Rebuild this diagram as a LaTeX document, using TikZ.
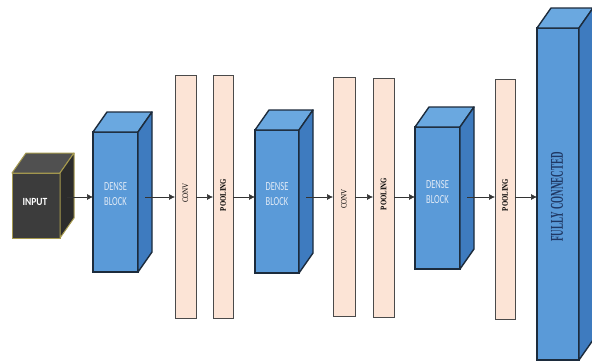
\documentclass[tikz,border=0pt]{standalone}
\usepackage{fontspec}
\setmainfont{Liberation Serif}
\newfontfamily\carlito{Carlito}
\usetikzlibrary{arrows.meta,calc}
\definecolor{dbblue}{HTML}{5A9AD8}
\definecolor{dbtopc}{HTML}{6AA8E0}
\definecolor{dbsidec}{HTML}{3E7BBF}
\definecolor{dbline}{HTML}{1C2B3C}
\definecolor{dbtext}{HTML}{E0EAF6}
\definecolor{peach}{HTML}{FCE4D6}
\definecolor{laygray}{HTML}{4A4A4A}
\definecolor{infront}{HTML}{3C3C3C}
\definecolor{intopc}{HTML}{505050}
\definecolor{insidec}{HTML}{2C2C2C}
\definecolor{inline}{HTML}{A69A4E}
\definecolor{fctext}{HTML}{1F3864}
\definecolor{arrgray}{HTML}{333333}
\tikzset{
  dbfront/.style={rectangle, draw=dbline, line width=1.4pt, fill=dbblue, inner sep=0pt, outer sep=0pt},
  dbtop/.style={draw=dbline, line width=1.4pt, fill=dbtopc, line join=round},
  dbside/.style={draw=dbline, line width=1.4pt, fill=dbsidec, line join=round},
  infront/.style={rectangle, draw=inline, line width=1pt, fill=infront, inner sep=0pt, outer sep=0pt},
  intop/.style={draw=inline, line width=1pt, fill=intopc, line join=round},
  inside/.style={draw=inline, line width=1pt, fill=insidec, line join=round},
  layer/.style={rectangle, draw=laygray, line width=0.9pt, fill=peach, inner sep=0pt, outer sep=0pt},
  arr/.style={draw=arrgray, line width=0.6pt, -{Latex[length=6pt,width=6pt]}},
  dblabel/.style={text=dbtext, font=\carlito\fontsize{8.5}{15}\selectfont, align=center},
  laylabel/.style={rotate=90, text=black, font=\fontsize{7}{8}\selectfont},
  poollabel/.style={rotate=90, text=black, font=\bfseries\fontsize{6.8}{8}\selectfont},
}
\newcommand\cuboid[6]{%
  \node[#6front, minimum width=#4pt, minimum height=#5pt] (#1) at (#2,#3) {};
  \filldraw[#6top] (#1.north west) -- ++(14,-20) -- ++(#4,0) -- (#1.north east) -- cycle;
  \filldraw[#6side] (#1.north east) -- ++(14,-20) -- ++(0,#5) -- (#1.south east) -- cycle;
}
\begin{document}
\begin{tikzpicture}[x=1pt,y=-1pt]
\useasboundingbox (0,0) rectangle (592,362);
\fill[white] (0,0) rectangle (592,362);
\clip (0,0) rectangle (592,362);
\coordinate (ay) at (0,197);
% input
\cuboid{in}{36}{205.5}{48}{65}{in}
\node[text=white, font=\carlito\bfseries\fontsize{9.5}{10}\selectfont] (inl) at (35,202) {\scalebox{1}[1.15]{INPUT}};
% dense block 1
\cuboid{d1}{115.5}{202}{45}{140}{db}
\node[dblabel] (d1l) at (115.5,194) {\scalebox{1}[1.45]{DENSE}\\\scalebox{1}[1.45]{BLOCK}};
% conv / pool 1
\node[layer, minimum width=21pt, minimum height=243pt] (c1) at (185.5,196.5) {};
\node[laylabel] (c1l) at (185.5,193) {\scalebox{1}[1.2]{CONV}};
\node[layer, minimum width=20pt, minimum height=243pt] (p1) at (223,196.5) {};
\node[poollabel] (p1l) at (223,195) {\scalebox{1}[1.25]{POOLING}};
% dense block 2
\cuboid{d2}{277}{201.5}{44}{143}{db}
\node[dblabel] (d2l) at (277,194) {\scalebox{1}[1.45]{DENSE}\\\scalebox{1}[1.45]{BLOCK}};
% conv / pool 2
\node[layer, minimum width=22pt, minimum height=239pt] (c2) at (344,196.5) {};
\node[laylabel] (c2l) at (344,199) {\scalebox{1}[1.2]{CONV}};
\node[layer, minimum width=21pt, minimum height=239pt] (p2) at (383.5,197.5) {};
\node[poollabel] (p2l) at (383.5,194) {\scalebox{1}[1.25]{POOLING}};
% dense block 3
\cuboid{d3}{437.5}{198}{45}{142}{db}
\node[dblabel] (d3l) at (437.5,192) {\scalebox{1}[1.45]{DENSE}\\\scalebox{1}[1.45]{BLOCK}};
% pool 3
\node[layer, minimum width=20pt, minimum height=240pt] (p3) at (505,199) {};
\node[poollabel] (p3l) at (505,195) {\scalebox{1}[1.25]{POOLING}};
% fully connected
\cuboid{fc}{558}{194}{42}{332}{db}
\node[rotate=90, text=fctext, font=\bfseries\fontsize{9}{10}\selectfont] (fcl) at (557,197) {\scalebox{1}[2]{FULLY CONNECTED}};
% arrows
\draw[arr] ($(in.east |- ay)+(7,0)$) -- (d1.west |- ay);
\draw[arr] ($(d1.east |- ay)+(7,0)$) -- (c1.west |- ay);
\draw[arr] (c1.east |- ay) -- (p1.west |- ay);
\draw[arr] (p1.east |- ay) -- (d2.west |- ay);
\draw[arr] ($(d2.east |- ay)+(7,0)$) -- (c2.west |- ay);
\draw[arr] (c2.east |- ay) -- (p2.west |- ay);
\draw[arr] (p2.east |- ay) -- (d3.west |- ay);
\draw[arr] ($(d3.east |- ay)+(7,0)$) -- (p3.west |- ay);
\draw[arr] (p3.east |- ay) -- (fc.west |- ay);
\end{tikzpicture}
\end{document}
